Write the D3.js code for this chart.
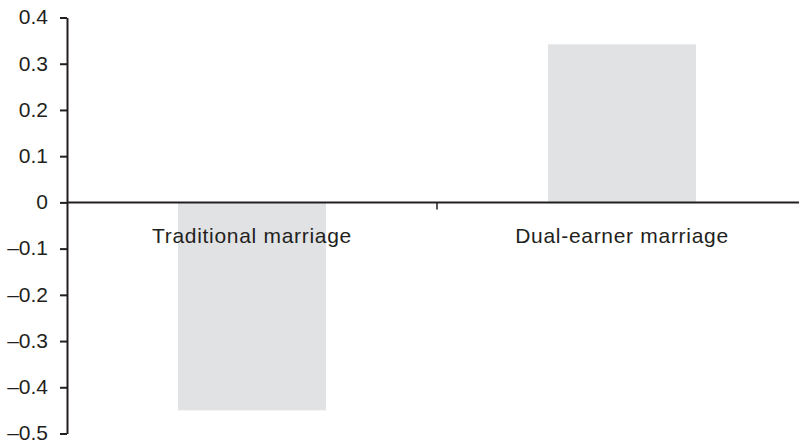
<!DOCTYPE html>
<html lang="en">
<head>
    <meta charset="UTF-8">
    <title>Marriage type</title>
    <script src="https://d3js.org/d3.v7.min.js"></script>
    <style>
        body { margin: 0; background: #fff; }
        svg { display: block; font-family: "Liberation Sans", Arial, sans-serif; }
    </style>
</head>
<body>
    <svg width="799" height="443"></svg>
    <script>
        // chart data
        var categories = ["Traditional marriage", "Dual-earner marriage"];
        var values = [-0.45, 0.342];
        var yTicks = [0.4, 0.3, 0.2, 0.1, 0, -0.1, -0.2, -0.3, -0.4, -0.5];

        var svg = d3.select("svg");
        var axisColor = "#231f20";
        var fontSize = "21px";

        var x = d3.scaleBand().domain(categories).range([67, 807]).paddingInner(0).paddingOuter(0);
        var y = d3.scaleLinear().domain([-0.5, 0.4]).range([433.5, 17.5]);

        var bw = x.bandwidth() * 0.4;

        // bars
        svg.selectAll("rect.bar")
            .data(values)
            .enter().append("rect")
            .attr("class", "bar")
            .attr("x", (d, i) => x(categories[i]) + x.bandwidth() / 2 - bw / 2)
            .attr("width", bw)
            .attr("y", d => y(Math.max(0, d)))
            .attr("height", d => Math.abs(y(d) - y(0)))
            .style("fill", "#e1e2e4");

        // y axis
        var fmt = d => d === 0 ? "0" : (d < 0 ? "\u2013" : "") + Math.abs(d).toFixed(1);
        var yAxis = svg.append("g")
            .attr("transform", "translate(67,0)")
            .call(d3.axisLeft(y).tickValues(yTicks).tickFormat(fmt).tickSize(7).tickPadding(12).tickSizeOuter(0));
        yAxis.select(".domain").attr("stroke", axisColor).attr("stroke-width", 2);
        yAxis.selectAll(".tick line").attr("stroke", axisColor).attr("stroke-width", 2);
        yAxis.selectAll(".tick text")
            .attr("fill", "#231f20")
            .attr("dy", "0.3em")
            .style("font-size", fontSize)
            .style("font-family", "Liberation Sans, Arial, sans-serif");

        // zero line with category separator tick
        svg.append("line")
            .attr("x1", 67).attr("x2", 807)
            .attr("y1", y(0)).attr("y2", y(0))
            .attr("stroke", axisColor).attr("stroke-width", 2);
        svg.append("line")
            .attr("x1", x(categories[1])).attr("x2", x(categories[1]))
            .attr("y1", y(0)).attr("y2", y(0) + 7)
            .attr("stroke", axisColor).attr("stroke-width", 1.5);

        // category labels
        svg.selectAll("text.cat")
            .data(categories)
            .enter().append("text")
            .attr("class", "cat")
            .attr("x", d => x(d) + x.bandwidth() / 2)
            .attr("y", y(0) + 40.5)
            .attr("text-anchor", "middle")
            .attr("fill", "#231f20")
            .style("font-size", fontSize)
            .style("letter-spacing", "0.7px")
            .text(d => d);
    </script>
</body>
</html>
